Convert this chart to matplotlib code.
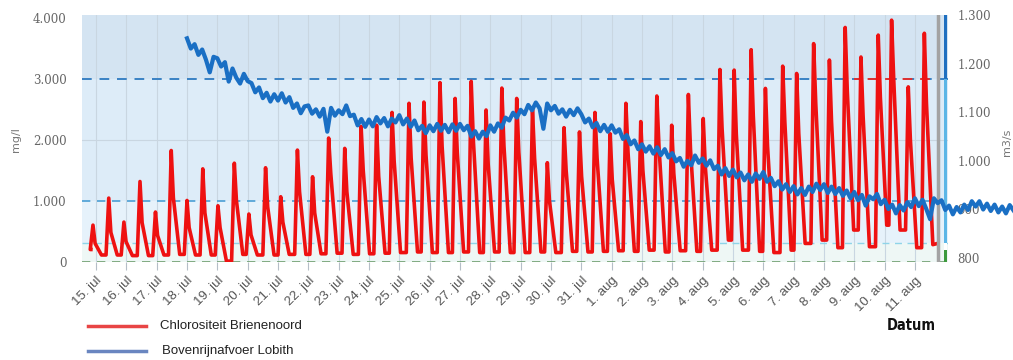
import matplotlib.pyplot as plt
from matplotlib import font_manager
from matplotlib.lines import Line2D
from matplotlib.patches import Rectangle
from matplotlib.ticker import FuncFormatter
import numpy as np

# Days counted from 15 jul 00:00
day_ticks = list(range(28))
day_labels = ['15. jul', '16. jul', '17. jul', '18. jul', '19. jul', '20. jul', '21. jul',
              '22. jul', '23. jul', '24. jul', '25. jul', '26. jul', '27. jul', '28. jul',
              '29. jul', '30. jul', '31. jul', '1. aug', '2. aug', '3. aug', '4. aug',
              '5. aug', '6. aug', '7. aug', '8. aug', '9. aug', '10. aug', '11. aug']

# Chlorositeit Brienenoord (mg/l): one entry per tide
peak_day = [-0.10, 0.42, 0.92, 1.45, 1.96, 2.48, 3.00, 3.52, 4.02, 4.56,
            5.04, 5.59, 6.09, 6.64, 7.14, 7.67, 8.20, 8.74, 9.25, 9.76,
            10.32, 10.81, 11.34, 11.84, 12.37, 12.86, 13.38, 13.87, 14.39, 14.88,
            15.43, 15.94, 16.45, 16.95, 17.47, 17.96, 18.49, 18.98, 19.53, 20.02,
            20.57, 21.04, 21.60, 22.07, 22.64, 23.10, 23.66, 24.18, 24.70, 25.22,
            25.79, 26.23, 26.78, 27.31]
peak_mg = [600, 1044, 650, 1316, 815, 1825, 1005, 1524, 918, 1617,
           782, 1542, 1066, 1832, 1394, 2030, 1860, 2220, 2240, 2450,
           2600, 2620, 2940, 2680, 2960, 2490, 2850, 2680, 2500, 1625,
           2200, 2130, 2450, 2100, 2600, 2300, 2720, 2240, 2745, 2350,
           3155, 3145, 3480, 2845, 3210, 3090, 3580, 3310, 3845, 3360,
           3720, 3965, 2870, 3750]
shoulder_mg = [300, 480, 330, 640, 430, 1050, 560, 800, 560, 1000,
               440, 900, 650, 1150, 800, 1450, 1150, 1500, 1400, 1650,
               1700, 1750, 1900, 1800, 2000, 1600, 1900, 1800, 1700, 1000,
               1500, 1400, 1700, 1350, 1800, 1500, 1900, 1450, 1850, 1550,
               2200, 2100, 2400, 1900, 2300, 2100, 2600, 2300, 2800, 2400,
               2700, 3000, 2000, 2600]
trough_mg = [110, 110, 100, 100, 110, 120, 110, 110, 10, 120,
             110, 110, 120, 120, 130, 140, 120, 130, 140, 150,
             160, 150, 150, 160, 150, 160, 150, 150, 160, 150,
             170, 160, 170, 180, 170, 190, 160, 180, 170, 190,
             355, 190, 170, 150, 190, 300, 355, 230, 520, 246,
             600, 520, 230, 280]
chl_start = (-0.17, 200)
chl_end = (27.75, 300)

# Bovenrijnafvoer Lobith (m3/s), every 3 hours from 18 jul 00:00
lobith_start_day = 3.0
lobith_q = [1252, 1231, 1240, 1218, 1229, 1208, 1182, 1214,
            1211, 1194, 1203, 1163, 1190, 1171, 1159, 1179,
            1164, 1160, 1141, 1151, 1129, 1140, 1122, 1137,
            1124, 1139, 1120, 1131, 1109, 1118, 1098, 1112,
            1114, 1097, 1106, 1091, 1107, 1060, 1109, 1093,
            1104, 1096, 1114, 1092, 1095, 1073, 1086, 1070,
            1085, 1071, 1090, 1077, 1088, 1071, 1087, 1079,
            1094, 1075, 1087, 1070, 1083, 1063, 1072, 1057,
            1073, 1061, 1076, 1062, 1074, 1059, 1075, 1062,
            1076, 1063, 1072, 1050, 1061, 1046, 1060, 1051,
            1073, 1060, 1077, 1068, 1089, 1083, 1099, 1089,
            1105, 1096, 1115, 1104, 1120, 1108, 1066, 1118,
            1104, 1113, 1097, 1106, 1091, 1105, 1094, 1108,
            1096, 1079, 1087, 1069, 1078, 1061, 1074, 1060,
            1073, 1058, 1065, 1045, 1053, 1034, 1042, 1024,
            1034, 1019, 1030, 1015, 1028, 1012, 1024, 1007,
            1016, 999, 1006, 988, 1000, 991, 1011, 996,
            1005, 990, 1001, 983, 990, 972, 985, 969,
            982, 966, 976, 960, 972, 957, 974, 963,
            977, 957, 965, 948, 958, 941, 952, 936,
            948, 931, 944, 930, 947, 936, 953, 940,
            952, 934, 947, 932, 944, 928, 939, 923,
            936, 919, 930, 908, 927, 921, 932, 911,
            920, 901, 910, 892, 909, 898, 915, 905,
            923, 907, 920, 901, 880, 923, 913, 919,
            899, 908, 890, 905, 894, 910, 899, 917,
            906, 917, 900, 912, 897, 910, 894, 906,
            892, 909, 898]

# tide curve: rise, peak, drop to shoulder, slower fall to trough
chl_t, chl_v = [chl_start[0]], [chl_start[1]]
prev = chl_start[1]
for tp, pk, sh, tr in zip(peak_day, peak_mg, shoulder_mg, trough_mg):
    chl_t += [tp - 0.09, tp, tp + 0.07, tp + 0.28]
    chl_v += [prev, pk, sh, tr]
    prev = tr
chl_t.append(chl_end[0])
chl_v.append(chl_end[1])

lobith_t = lobith_start_day + np.arange(len(lobith_q)) / 8

installed = {f.name for f in font_manager.fontManager.ttflist}
narrow = 'Liberation Sans Narrow' if 'Liberation Sans Narrow' in installed else 'DejaVu Sans'

W, H = 1013, 360
fig = plt.figure(figsize=(W / 100, H / 100), dpi=100)
ax = fig.add_axes([82 / W, 1 - 262 / H, (948 - 82) / W, (262 - 15) / H])
ax.set_xlim(-0.462, 28.09)
ax.set_ylim(-5, 4050)

# background bands
ax.axhspan(3000, 4100, color='#d4e4f2', zorder=0, lw=0)
ax.axhspan(1000, 3000, color='#ddecf8', zorder=0, lw=0)
ax.axhspan(300, 1000, color='#e6f2fb', zorder=0, lw=0)
ax.axhspan(-10, 300, color='#eef7f5', zorder=0, lw=0)

for d in day_ticks:
    ax.axvline(d, color='#c9d6e1', lw=0.8, zorder=0.5)
ax.axhline(2000, color='#c9d6e1', lw=0.8, zorder=0.5)

ax.axhline(3000, color='#3a82c4', lw=1.4, ls=(0, (5, 4)), zorder=1)
ax.plot([25.0, 27.75], [3000, 3000], color='#e03030', lw=1.4, ls=(2, (5, 4)), zorder=1)
ax.axhline(1000, color='#4b9fd4', lw=1.2, ls=(0, (5, 4)), zorder=1)
ax.axhline(300, color='#8fd4e8', lw=1.0, ls=(0, (5, 4)), zorder=1)
ax.axhline(0, color='#6e9e6e', lw=1.2, ls=(0, (5, 4)), zorder=1)

ax.plot(chl_t, chl_v, color='#ee1111', lw=2.6, zorder=3, solid_joinstyle='round')
ax.axvline(27.75, color='#a3a3a3', lw=2.5, zorder=4)

# threshold bar at the right edge
bar_tr = ax.get_yaxis_transform()
for y0, y1, c in [(3000, 4050, '#1f6fc0'), (300, 3000, '#5cb6e6'),
                  (200, 300, '#ffffff'), (-5, 200, '#3d9a3d')]:
    ax.add_patch(Rectangle((0.9954, y0), 0.0035, y1 - y0, transform=bar_tr,
                           color=c, lw=0, zorder=4))

for s in ax.spines.values():
    s.set_visible(False)

ax.set_xticks(day_ticks)
ax.set_xticklabels(day_labels, rotation=45, ha='right', va='top',
                   rotation_mode='anchor', fontsize=9.5, color='#555555',
                   family='Liberation Sans')
ax.tick_params(axis='x', length=6, color='#b5bec7', pad=3)
ax.set_yticks([0, 1000, 2000, 3000, 4000])
thousands = FuncFormatter(lambda v, p: f'{int(round(v)):,}'.replace(',', '.'))
ax.yaxis.set_major_formatter(thousands)
ax.tick_params(axis='y', length=0, pad=11, labelsize=8.5, labelcolor='#666666')
for lab in ax.get_yticklabels():
    lab.set_family('DejaVu Serif')

ax2 = ax.twinx()
ax2.set_ylim(792, 1300)
ax2.plot(lobith_t, lobith_q, color='#1a6fc4', lw=3.0, zorder=6, clip_on=False,
         solid_joinstyle='round')
for s in ax2.spines.values():
    s.set_visible(False)
ax2.set_yticks([800, 900, 1000, 1100, 1200, 1300])
ax2.yaxis.set_major_formatter(thousands)
ax2.tick_params(axis='y', length=0, pad=7, labelsize=8.5, labelcolor='#666666')
for lab in ax2.get_yticklabels():
    lab.set_family('DejaVu Serif')

fig.text(16 / W, 1 - 140 / H, 'mg/l', rotation=90, ha='center', va='center',
         fontsize=8, color='#777777')
fig.text(1007 / W, 1 - 142 / H, 'm3/s', rotation=90, ha='center', va='center',
         fontsize=8, color='#777777')
fig.text(911 / W, 1 - 325 / H, 'Datum', ha='center', va='center', fontsize=10.5,
         fontweight='bold', family=narrow, fontstretch='condensed',
         color='#111111')

# legend
fig.add_artist(Line2D([88 / W, 146 / W], [1 - 326 / H] * 2, color='#e84545', lw=2.5))
fig.text(160 / W, 1 - 326 / H, 'Chlorositeit Brienenoord', ha='left', va='center',
         fontsize=9.5, color='#222222', family='Liberation Sans')
fig.add_artist(Line2D([88 / W, 146 / W], [1 - 351 / H] * 2, color='#6a86c0', lw=2.5))
fig.text(162 / W, 1 - 351 / H, 'Bovenrijnafvoer Lobith', ha='left', va='center',
         fontsize=9.5, color='#222222', family='Liberation Sans')

fig.savefig('out.png', dpi=100, facecolor='white')
